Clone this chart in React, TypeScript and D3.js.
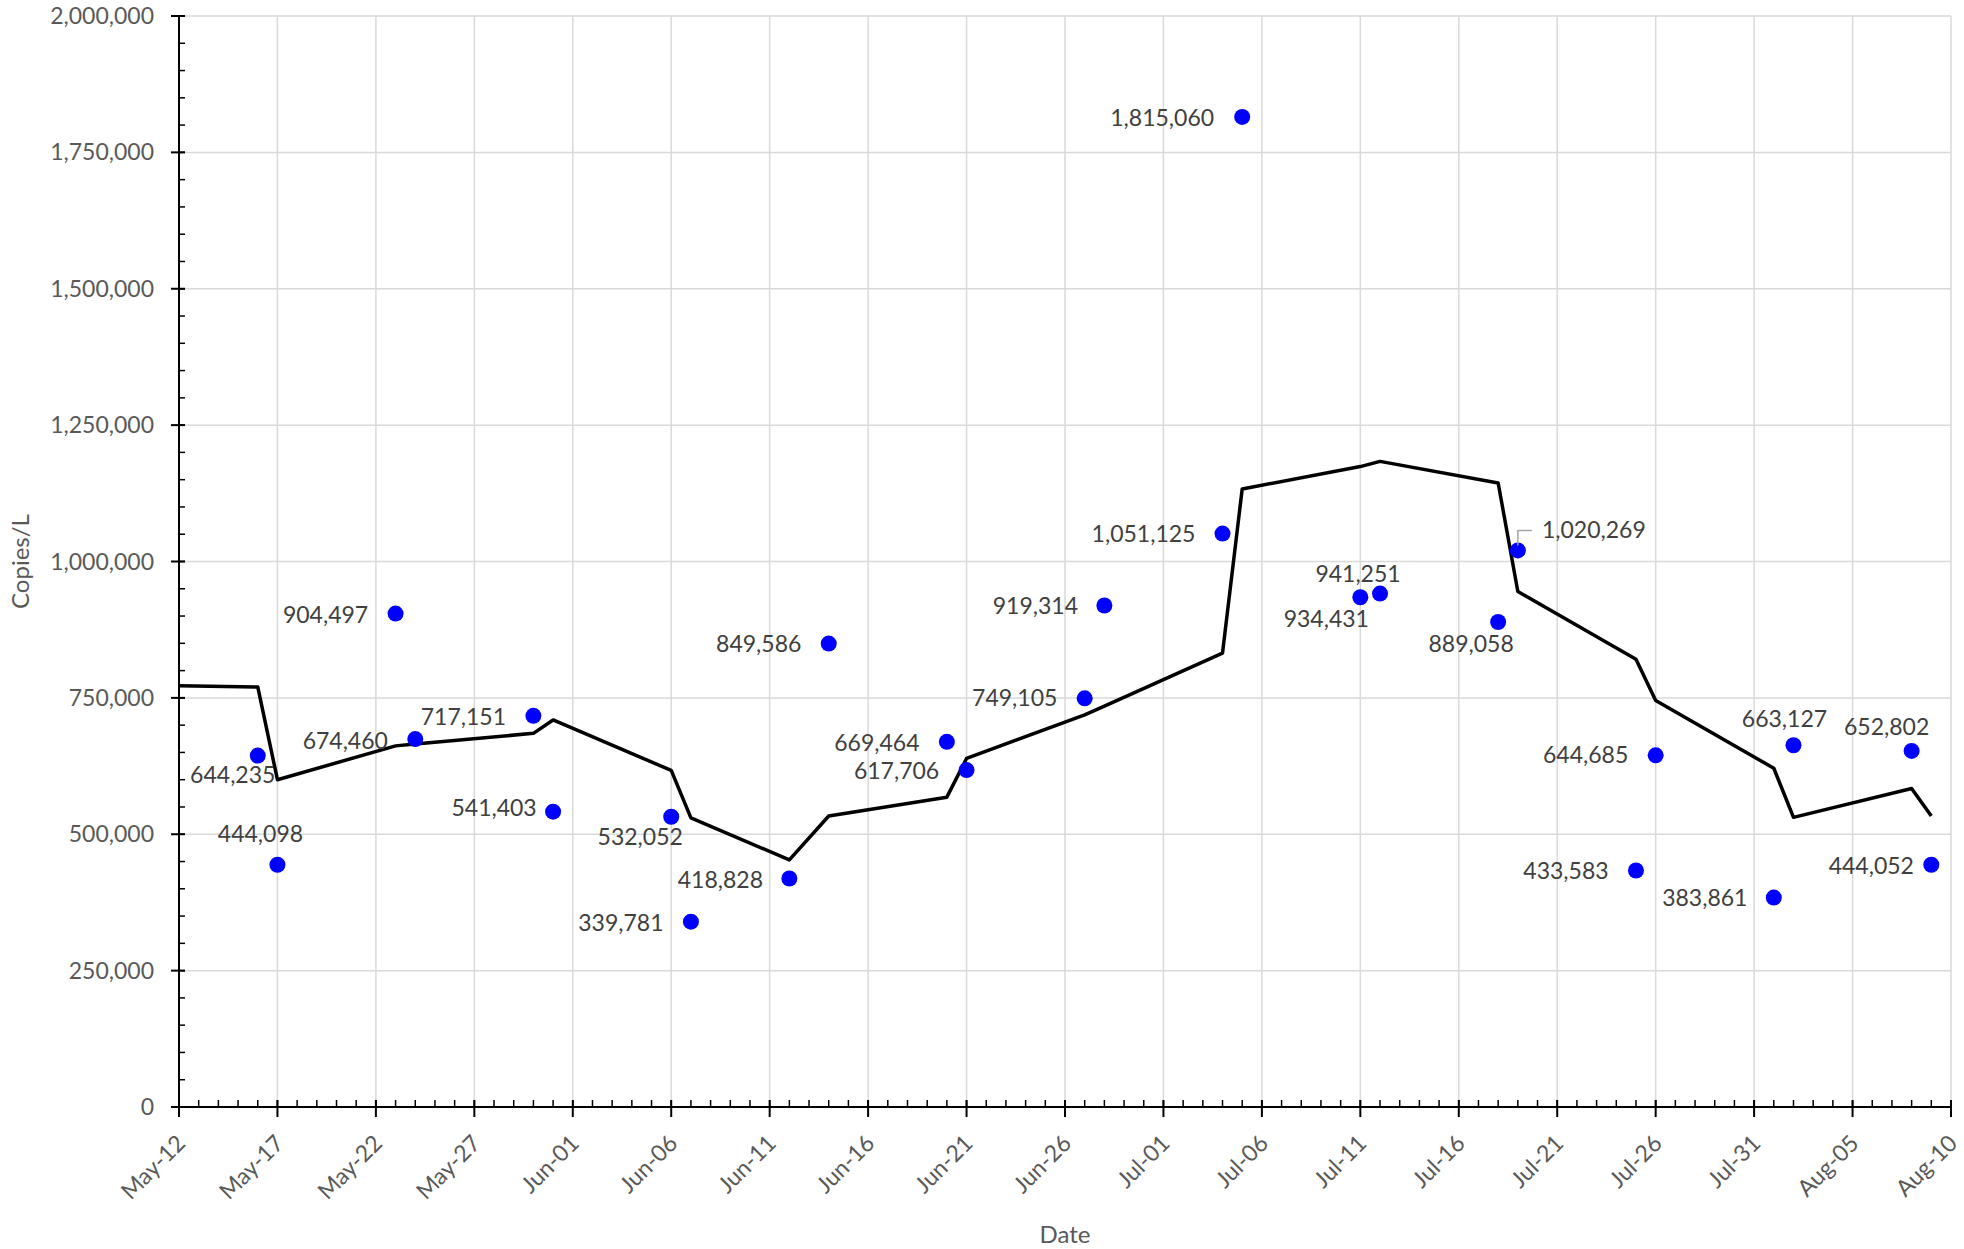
import React, { useRef, useEffect } from 'react';
import * as d3 from 'd3';

// sampled concentrations (dots)
const sampleDates = [
  '2021-05-16', '2021-05-17', '2021-05-23', '2021-05-24', '2021-05-30', '2021-05-31',
  '2021-06-06', '2021-06-07', '2021-06-12', '2021-06-14', '2021-06-20', '2021-06-21',
  '2021-06-27', '2021-06-28', '2021-07-04', '2021-07-05', '2021-07-11', '2021-07-12',
  '2021-07-18', '2021-07-19', '2021-07-25', '2021-07-26', '2021-08-01', '2021-08-02',
  '2021-08-08', '2021-08-09',
];
const sampleValues = [
  644235, 444098, 904497, 674460, 717151, 541403,
  532052, 339781, 418828, 849586, 669464, 617706,
  749105, 919314, 1051125, 1815060, 934431, 941251,
  889058, 1020269, 433583, 644685, 383861, 663127,
  652802, 444052,
];

// trend line (black)
const trendDates = [
  '2021-05-12', '2021-05-16', '2021-05-17', '2021-05-23', '2021-05-24', '2021-05-30',
  '2021-05-31', '2021-06-06', '2021-06-07', '2021-06-12', '2021-06-14', '2021-06-20',
  '2021-06-21', '2021-06-27', '2021-06-28', '2021-07-04', '2021-07-05', '2021-07-11',
  '2021-07-12', '2021-07-18', '2021-07-19', '2021-07-25', '2021-07-26', '2021-08-01',
  '2021-08-02', '2021-08-08', '2021-08-09',
];
const trendValues = [
  772000, 770000, 600000, 662000, 665500, 685000,
  709500, 617000, 530000, 453000, 533500, 568000,
  639000, 719000, 735000, 832000, 1133000, 1174000,
  1183500, 1144000, 945000, 821000, 745000, 621000,
  531000, 584000, 533500,
];

const yTickValues = [0, 250000, 500000, 750000, 1000000, 1250000, 1500000, 1750000, 2000000];
const xStart = '2021-05-12';
const xEnd = '2021-08-10';

// where each data label sits relative to its dot (px)
const labelOffsets = [
  [-25, 19], [-17, -31], [-70, 1], [-70, 2], [-70, 1], [-59, -4],
  [-31, 20], [-70, 1], [-69, 1], [-70, 0], [-70, 1], [-70, 1],
  [-70, 0], [-69, 0], [-79, 0], [-80, 1], [-34, 22], [-22, -20],
  [-27, 22], [76, -20], [-70, 0], [-70, 0], [-69, 0], [-9, -26],
  [-25, -24], [-60, 1],
];

const W = 1964;
const H = 1249;
const margin = { top: 16, right: 13, bottom: 142, left: 179 };
const FONT = 'Lato, "Open Sans", sans-serif';

const App = () => {
  const ref = useRef<SVGSVGElement>(null);

  useEffect(() => {
    const svg = d3.select(ref.current);
    svg.selectAll('*').remove();

    const parse = d3.timeParse('%Y-%m-%d');
    const x = d3.scaleTime()
      .domain([parse(xStart)!, parse(xEnd)!])
      .range([margin.left, W - margin.right]);
    const y = d3.scaleLinear()
      .domain([0, 2000000])
      .range([H - margin.bottom, margin.top]);

    const xTicks = d3.timeDay.range(parse(xStart)!, d3.timeDay.offset(parse(xEnd)!, 1), 5);
    const xMinor = d3.timeDay.range(parse(xStart)!, d3.timeDay.offset(parse(xEnd)!, 1), 1);
    const yMinor = d3.range(0, 2000001, 50000);

    // gridlines
    const grid = svg.append('g').attr('stroke', '#d9d9d9').attr('stroke-width', 1.5);
    grid.selectAll('.h').data(yTickValues).join('line')
      .attr('x1', margin.left).attr('x2', W - margin.right)
      .attr('y1', d => y(d)).attr('y2', d => y(d));
    grid.selectAll('.v').data(xTicks).join('line')
      .attr('x1', d => x(d)).attr('x2', d => x(d))
      .attr('y1', margin.top).attr('y2', H - margin.bottom);

    // y axis
    const yAxis = svg.append('g');
    yAxis.append('line')
      .attr('x1', margin.left).attr('x2', margin.left)
      .attr('y1', margin.top).attr('y2', H - margin.bottom)
      .attr('stroke', '#000').attr('stroke-width', 2);
    yAxis.selectAll('.minor').data(yMinor).join('line')
      .attr('x1', margin.left).attr('x2', margin.left + 6)
      .attr('y1', d => y(d)).attr('y2', d => y(d))
      .attr('stroke', '#000').attr('stroke-width', 1.5);
    yAxis.selectAll('.major').data(yTickValues).join('line')
      .attr('x1', margin.left - 8).attr('x2', margin.left + 6)
      .attr('y1', d => y(d)).attr('y2', d => y(d))
      .attr('stroke', '#000').attr('stroke-width', 2);
    yAxis.selectAll('text').data(yTickValues).join('text')
      .attr('x', margin.left - 25).attr('y', d => y(d))
      .attr('dy', '0.35em')
      .attr('text-anchor', 'end')
      .attr('font-family', FONT).attr('font-size', 23)
      .attr('fill', '#595959')
      .text(d => d3.format(',')(d));

    // x axis
    const base = H - margin.bottom;
    const xAxis = svg.append('g');
    xAxis.append('line')
      .attr('x1', margin.left).attr('x2', W - margin.right)
      .attr('y1', base).attr('y2', base)
      .attr('stroke', '#000').attr('stroke-width', 2);
    xAxis.selectAll('.minor').data(xMinor).join('line')
      .attr('x1', d => x(d)).attr('x2', d => x(d))
      .attr('y1', base - 7).attr('y2', base)
      .attr('stroke', '#000').attr('stroke-width', 1.5);
    xAxis.selectAll('.major').data(xTicks).join('line')
      .attr('x1', d => x(d)).attr('x2', d => x(d))
      .attr('y1', base - 7).attr('y2', base + 10)
      .attr('stroke', '#000').attr('stroke-width', 2);
    xAxis.selectAll('text').data(xTicks).join('text')
      .attr('transform', d => `translate(${x(d) + 2},${base + 32}) rotate(-45)`)
      .attr('dy', '0.35em')
      .attr('text-anchor', 'end')
      .attr('font-family', FONT).attr('font-size', 23)
      .attr('fill', '#595959')
      .text(d => d3.timeFormat('%b-%d')(d));

    // axis titles
    svg.append('text')
      .attr('transform', `translate(21,${(margin.top + base) / 2}) rotate(-90)`)
      .attr('dy', '0.35em')
      .attr('text-anchor', 'middle')
      .attr('font-family', FONT).attr('font-size', 24)
      .attr('fill', '#595959')
      .text('Copies/L');
    svg.append('text')
      .attr('x', (margin.left + W - margin.right) / 2).attr('y', 1235)
      .attr('dy', '0.35em')
      .attr('text-anchor', 'middle')
      .attr('font-family', FONT).attr('font-size', 24)
      .attr('fill', '#595959')
      .text('Date');

    // trend line
    const trend = trendDates.map((d, i) => ({ date: parse(d)!, value: trendValues[i] }));
    const line = d3.line<{ date: Date; value: number }>()
      .x(d => x(d.date))
      .y(d => y(d.value));
    svg.append('path')
      .datum(trend)
      .attr('d', line)
      .attr('fill', 'none')
      .attr('stroke', '#000')
      .attr('stroke-width', 3.5)
      .attr('stroke-linejoin', 'round');

    // sample dots + labels
    const samples = sampleDates.map((d, i) => ({ date: parse(d)!, value: sampleValues[i], off: labelOffsets[i] }));
    svg.append('g').selectAll('circle').data(samples).join('circle')
      .attr('cx', d => x(d.date))
      .attr('cy', d => y(d.value))
      .attr('r', 8)
      .attr('fill', '#0000ff');

    // leader line for the one label placed to the right
    samples.filter(d => d.off[0] > 0).forEach(d => {
      const cx = x(d.date);
      const cy = y(d.value);
      svg.append('path')
        .attr('d', `M${cx},${cy - 5}V${cy + d.off[1]}H${cx + 14}`)
        .attr('fill', 'none')
        .attr('stroke', '#a6a6a6')
        .attr('stroke-width', 1.5);
    });

    svg.append('g').selectAll('text').data(samples).join('text')
      .attr('x', d => x(d.date) + d.off[0])
      .attr('y', d => y(d.value) + d.off[1])
      .attr('dy', '0.35em')
      .attr('text-anchor', 'middle')
      .attr('font-family', FONT).attr('font-size', 23)
      .attr('fill', '#404040')
      .text(d => d3.format(',')(d.value));
  }, []);

  return (
    <svg
      ref={ref}
      width={W}
      height={H}
      style={{ position: 'absolute', left: 0, top: 0, background: '#fff' }}
    />
  );
};

export default App;
